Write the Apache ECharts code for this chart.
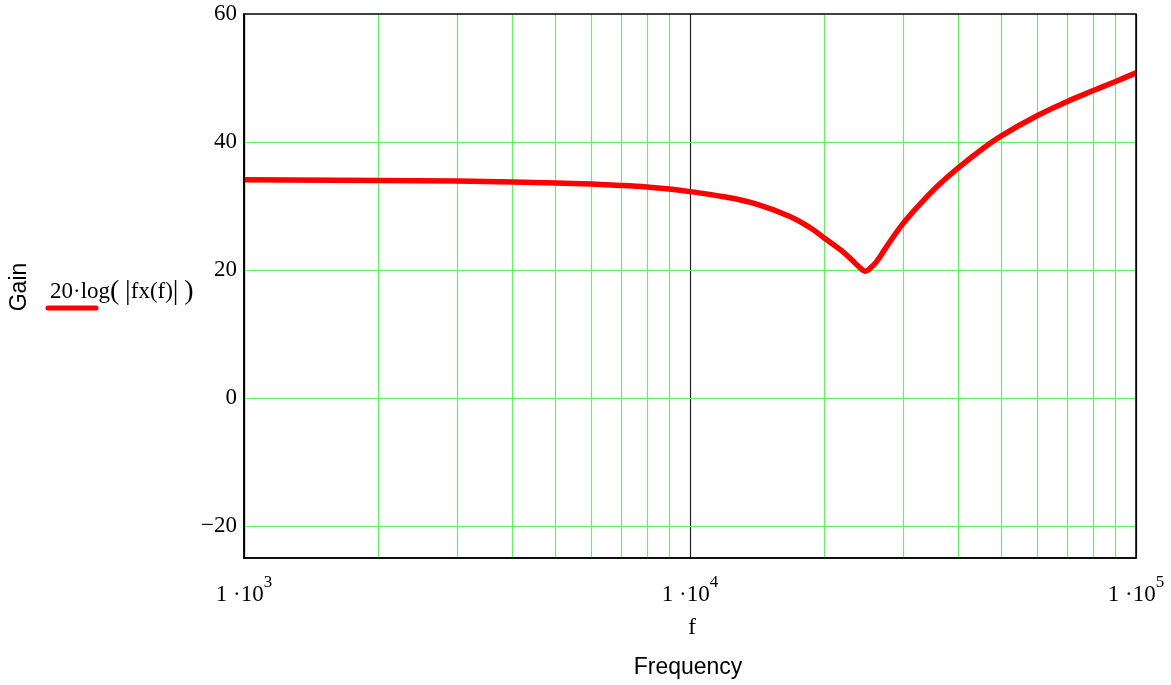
<!DOCTYPE html>
<html>
<head>
<meta charset="utf-8">
<script src="https://cdn.jsdelivr.net/npm/echarts@6/dist/echarts.min.js"></script>
<style>
  html, body { margin: 0; padding: 0; background: #fff; }
  #chart { width: 1171px; height: 685px; }
</style>
</head>
<body>
<div id="chart"></div>
<script>
// values
var freqs = [1000, 2000, 3000, 4000, 5000, 6000, 7000, 8000, 9000, 10000,
  11900, 14100, 16700, 18600, 20000, 21800, 23200, 24100, 24700, 25300, 26200, 27500,
  30000, 33000, 36000, 40000, 45000, 50000, 60000, 70000, 80000, 90000, 100000];
var gainDb = [34.1, 34.0, 33.9, 33.75, 33.6, 33.42, 33.22, 32.98, 32.65, 32.25,
  31.45, 30.3, 28.4, 26.6, 25.0, 23.1, 21.4, 20.3, 19.8, 20.2, 21.3, 23.5,
  27.2, 30.5, 33.2, 36.0, 38.8, 41.0, 44.1, 46.3, 48.0, 49.45, 50.8];
var minorFreqs = [2000, 3000, 4000, 5000, 6000, 7000, 8000, 9000,
  20000, 30000, 40000, 50000, 60000, 70000, 80000, 90000];
var yGridVals = [-20, 0, 20, 40];
var yTickVals = [-20, 0, 20, 40, 60];

var serif = 'Liberation Serif';
var green = '#66ee66';

var myChart = echarts.init(document.getElementById('chart'));

var lineData = freqs.map(function (f, i) { return [f, gainDb[i]]; });

var option = {
  animation: false,
  backgroundColor: '#fff',
  grid: { left: 244, top: 14, right: 35, bottom: 127 },
  xAxis: {
    type: 'log',
    logBase: 10,
    min: 1000,
    max: 100000,
    axisLine: { show: true, onZero: false, lineStyle: { color: '#000', width: 1.5 } },
    axisTick: { show: false },
    splitLine: { show: true, lineStyle: { color: '#222', width: 1.2 } },
    axisLabel: {
      margin: 16,
      formatter: function (v) {
        var e = Math.round(Math.log10(v));
        return '{b|1 \u00b710}{s|' + e + '}';
      },
      rich: {
        b: { fontFamily: serif, fontSize: 23, color: '#000', verticalAlign: 'bottom', lineHeight: 32 },
        s: { fontFamily: serif, fontSize: 17, color: '#000', verticalAlign: 'top', lineHeight: 32 }
      }
    }
  },
  yAxis: {
    type: 'value',
    min: -25,
    max: 60,
    interval: 5,
    axisLine: { show: true, onZero: false, lineStyle: { color: '#000', width: 1.5 } },
    axisTick: { show: false },
    splitLine: { show: false },
    axisLabel: {
      margin: 7,
      fontFamily: serif,
      fontSize: 23,
      color: '#000',
      formatter: function (v) {
        if (yTickVals.indexOf(v) < 0) return '';
        return v < 0 ? '\u2212' + Math.abs(v) : String(v);
      }
    }
  },
  graphic: [
    // plot frame (top and right edges)
    { type: 'rect', shape: { x: 244, y: 14, width: 892, height: 544 }, style: { fill: 'none', stroke: '#000', lineWidth: 1.5 }, z: 10 },
    { type: 'text', x: 20, y: 287, rotation: Math.PI / 2, style: { text: 'Gain', font: '23px "Liberation Sans"', fill: '#000', align: 'center', verticalAlign: 'middle' } },
    {
      type: 'text', x: 50, y: 292,
      style: {
        text: '{n|20\u00b7log}{p|(}{n| }{p||}{n|fx(f)}{p||}{n| }{p|)}',
        align: 'left', verticalAlign: 'middle',
        rich: {
          n: { fontFamily: serif, fontSize: 23, fill: '#000' },
          p: { fontFamily: serif, fontSize: 28, fill: '#000' }
        }
      }
    },
    { type: 'line', shape: { x1: 48, y1: 308, x2: 96, y2: 308 }, style: { stroke: '#ff0000', lineWidth: 5, lineCap: 'round' } },
    { type: 'text', x: 692, y: 628, style: { text: 'f', font: '23px "Liberation Serif"', fill: '#000', align: 'center', verticalAlign: 'middle' } },
    { type: 'text', x: 688, y: 668, style: { text: 'Frequency', font: '23px "Liberation Sans"', fill: '#000', align: 'center', verticalAlign: 'middle' } }
  ],
  series: [
    {
      type: 'line',
      data: [],
      silent: true,
      markLine: {
        silent: true,
        symbol: 'none',
        label: { show: false },
        lineStyle: { color: green, type: 'solid', width: 1.2 },
        data: minorFreqs.map(function (f) { return { xAxis: f }; })
          .concat(yGridVals.map(function (v) { return { yAxis: v }; }))
      }
    },
    {
      name: 'gain',
      type: 'line',
      data: lineData,
      showSymbol: false,
      smooth: 0.4,
      lineStyle: { color: '#ff0000', width: 5.5 },
      z: 5
    }
  ]
};

myChart.setOption(option);
window.addEventListener('resize', function () { myChart.resize(); });
</script>
</body>
</html>
